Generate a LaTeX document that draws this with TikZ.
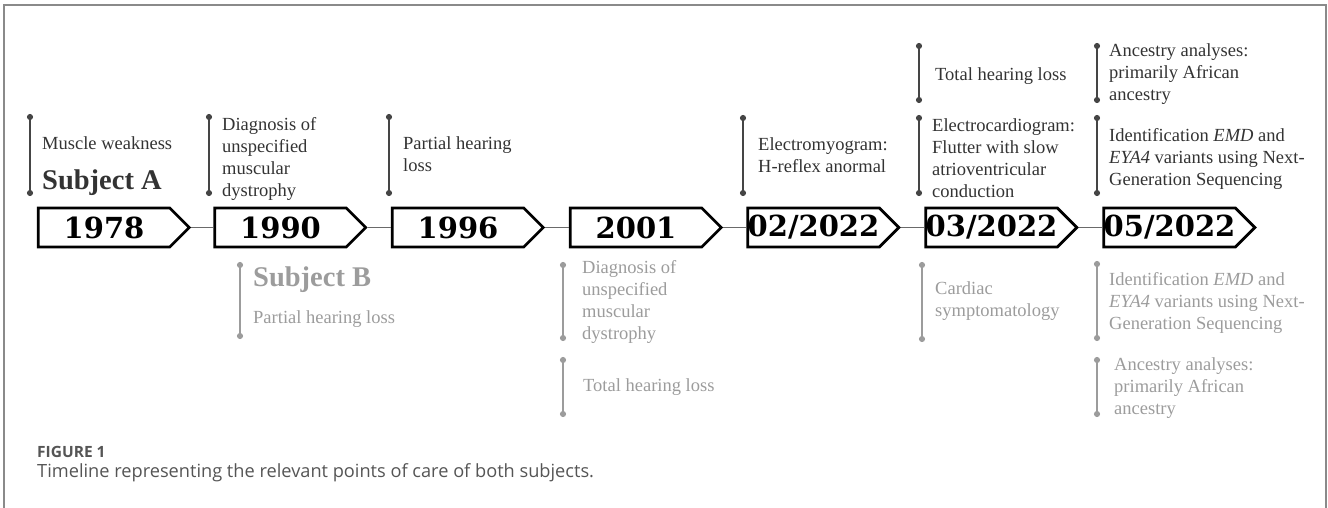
\documentclass[tikz,border=0pt]{standalone}
\usepackage{fontspec}
\setmainfont{Liberation Serif}
\newfontfamily\yearfont{DejaVu Serif}
\newfontfamily\capfont{Open Sans}
\usetikzlibrary{shapes.symbols,arrows.meta}
\definecolor{subjA}{HTML}{333333}
\definecolor{barA}{HTML}{454545}
\definecolor{subjB}{HTML}{9C9C9C}
\definecolor{framegray}{HTML}{8A8A8A}
\definecolor{capgray}{HTML}{555555}
\tikzset{
  yearbox/.style={shape=signal, signal to=east, draw=black, line width=2.8pt,
    minimum width=151pt, minimum height=39pt, inner sep=0pt,
    font=\yearfont\bfseries\fontsize{29}{29}\selectfont},
  link/.style={draw=barA!80, line width=1.5pt},
  evA/.style={anchor=north west, inner sep=0pt, align=left, text=subjA,
    font=\rmfamily\fontsize{18.5}{22}\selectfont},
  evB/.style={evA, text=subjB},
  tickA/.style={draw=barA, line width=1.8pt, {Circle[length=6pt]}-{Circle[length=6pt]}},
  tickB/.style={tickA, draw=subjB},
}
\begin{document}
\begin{tikzpicture}[x=1pt, y=-1pt]
  \useasboundingbox (0,0) rectangle (1328,508);
  % frame
  \draw[framegray, line width=2pt] (4,508) -- (4,5) -- (1326,5) -- (1326,508);

  % years
  \node[yearbox] (y1978) at (104,227.5) {1978};
  \node[yearbox] (y1990) at (280.5,227.5) {1990};
  \node[yearbox] (y1996) at (458,227.5) {1996};
  \node[yearbox] (y2001) at (636,227.5) {2001};
  \node[yearbox] (y0222) at (813.5,227.5) {02/2022};
  \node[yearbox] (y0322) at (991.5,227.5) {03/2022};
  \node[yearbox] (y0522) at (1169.5,227.5) {05/2022};
  \begin{scope}[link]
    \draw (y1978.east) -- (y1990.west);
    \draw (y1990.east) -- (y1996.west);
    \draw (y1996.east) -- (y2001.west);
    \draw (y2001.east) -- (y0222.west);
    \draw (y0222.east) -- (y0322.west);
    \draw (y0322.east) -- (y0522.west);
  \end{scope}

  % subject A (above)
  \draw[tickA] (30,114) -- (30,196);
  \draw[tickA] (209,114) -- (209,196);
  \draw[tickA] (389,114) -- (389,196);
  \draw[tickA] (743,115) -- (743,196);
  \draw[tickA] (919,43) -- (919,103);
  \draw[tickA] (919,115) -- (919,196);
  \draw[tickA] (1097,43) -- (1097,103);
  \draw[tickA] (1097,115) -- (1097,196);
  \node[evA] (a1978) at (42,136) {Muscle weakness};
  \node[evA, font=\rmfamily\bfseries\fontsize{28.5}{30}\selectfont] (subjectA) at (42,170) {Subject A};
  \node[evA] (a1990) at (222,117) {Diagnosis of\\unspecified\\muscular\\dystrophy};
  \node[evA] (a1996) at (403,136) {Partial hearing\\loss};
  \node[evA] (a0222) at (758,137) {Electromyogram:\\H-reflex anormal};
  \node[evA] (a0322t) at (935,67) {Total hearing loss};
  \node[evA] (a0322) at (932,118) {Electrocardiogram:\\Flutter with slow\\atrioventricular\\conduction};
  \node[evA] (a0522t) at (1109,43) {Ancestry analyses:\\primarily African\\ancestry};
  \node[evA] (a0522) at (1109,128) {Identification \textit{EMD} and\\\textit{EYA4} variants using Next-\\Generation Sequencing};

  % subject B (below)
  \draw[tickB] (240,262) -- (240,339);
  \draw[tickB] (563,262) -- (563,341);
  \draw[tickB] (563,357) -- (563,417);
  \draw[tickB] (922,262) -- (922,342);
  \draw[tickB] (1097,261) -- (1097,341);
  \draw[tickB] (1097,357) -- (1097,417);
  \node[evB, font=\rmfamily\bfseries\fontsize{28.5}{30}\selectfont] (subjectB) at (253,267) {Subject B};
  \node[evB] (b1990) at (253,310) {Partial hearing loss};
  \node[evB] (b2001) at (582,260) {Diagnosis of\\unspecified\\muscular\\dystrophy};
  \node[evB] (b2001t) at (583,378) {Total hearing loss};
  \node[evB] (b0322) at (935,281) {Cardiac\\symptomatology};
  \node[evB] (b0522) at (1109,272) {Identification \textit{EMD} and\\\textit{EYA4} variants using Next-\\Generation Sequencing};
  \node[evB] (b0522t) at (1114,357) {Ancestry analyses:\\primarily African\\ancestry};

  % caption
  \node[anchor=north west, inner sep=0pt, text=capgray, font=\capfont\bfseries\fontsize{15.5}{17}\selectfont] (figlabel) at (37,446) {FIGURE 1};
  \node[anchor=north west, inner sep=0pt, text=capgray, font=\capfont\fontsize{18.2}{20}\selectfont] (figcaption) at (37,463) {Timeline representing the relevant points of care of both subjects.};
\end{tikzpicture}
\end{document}
